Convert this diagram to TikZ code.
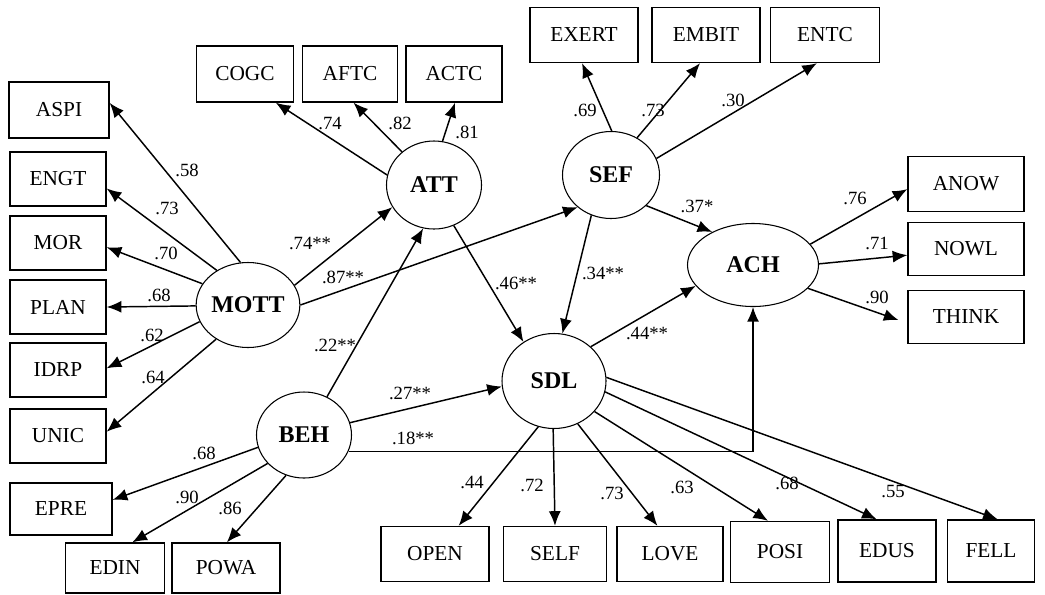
\documentclass[tikz,border=0pt]{standalone}
\usepackage{fontspec}
\setmainfont{Liberation Serif}
\usetikzlibrary{shapes.geometric,arrows.meta}
\tikzset{
  obs/.style={draw,line width=1pt,inner sep=0pt,font=\fontsize{16}{18}\selectfont},
  lat/.style={draw,ellipse,line width=0.8pt,inner sep=0pt,fill=white,font=\fontsize{18}{20}\selectfont\bfseries},
  lbl/.style={inner sep=0pt,font=\fontsize{14}{16}\selectfont},
}
\begin{document}
\begin{tikzpicture}[x=0.75pt,y=-0.75pt,>={Latex[length=11pt,width=9pt]},line width=1.1pt]
\useasboundingbox (0,0) rectangle (1045,594);
\foreach \n/\x/\y/\w/\h in {ASPI/59/110/100/56, ENGT/58/179/96/54, MOR/58/243/96/54,
  PLAN/58/307/96/54, IDRP/58/370/96/54, UNIC/58/436/96/54, EPRE/61/509/102/52,
  EDIN/115/568/99/50, POWA/226/568/108/50, COGC/245/74/97/56, AFTC/350/74/95/56,
  ACTC/454/74/96/56, EXERT/584/35/108/55, EMBIT/706/35/108/55, ENTC/825/35/109/55,
  ANOW/966/184/116/55, NOWL/966/249/116/53, THINK/966/317/116/53, OPEN/435/554/108/55,
  SELF/555/554/103/55, LOVE/670/554/106/55, POSI/780/552/99/61, EDUS/887/551/98/62,
  FELL/991/551/87/62}
{
  \node[obs,minimum width=\w*0.75pt,minimum height=\h*0.75pt] (\n) at (\x,\y) {\n};
}
\foreach \n/\x/\y/\w/\h in {MOTT/248/305/91/85, BEH/304/435/95/86, ATT/434/185/95/88,
  SEF/611/175/97/87, ACH/753/265/131/83, SDL/554/381/104/95}
{
  \node[lat,minimum width=\w*0.75pt,minimum height=\h*0.75pt] (\n) at (\x,\y) {\n};
}
\foreach \a/\b/\lx/\ly/\t [count=\i] in {MOTT.100/ASPI.8/187/170/.58, MOTT.132/ENGT.349/167/208/.73,
  MOTT.155/MOR.355/166/253/.70, MOTT.181/PLAN.east/159/295/.68, MOTT.199/IDRP.2/152/335/.62,
  MOTT.227/UNIC.5/153/377/.64, MOTT.23/ATT.208/310/243/.74**, MOTT.east/SEF.224/343/277/.87**,
  BEH.195/EPRE.10/204/453/.68, BEH.218/EDIN.56/187/497/.90, BEH.246/POWA.88/230/508/.86,
  BEH.59/ATT.256/335/345/.22**, BEH.15/SDL.186/410/393/.27**,
  ATT.168/COGC.317/330/123/.74, ATT.134/AFTC.277/400/123/.82, ATT.79/ACTC.272/467/132/.81,
  ATT.296/SDL.128/516/283/.46**,
  SEF.89/EXERT.266/585/110/.69, SEF.55/EMBIT.258/653/110/.73, SEF.20/ENTC.254/733/100/.30,
  SEF.319/ACH.141/697/206/.37*, SEF.244/SDL.80/603/273/.34**, SDL.43/ACH.200/647/333/.44**,
  ACH.20/ANOW.185/855/198/.76, ACH.1/NOWL.186/877/243/.71,
  SDL.251/OPEN.50/472/482/.44, SDL.269/SELF.north/532/485/.72, SDL.299/LOVE.114/612/493/.73,
  SDL.323/POSI.111/682/487/.63, SDL.348/EDUS.108/787/483/.68, SDL.4/FELL.78/893/492/.55}
{
  \draw[->] (\a) -- (\b);
  \node[lbl] (c\i) at (\lx,\ly) {\t};
}
\draw[->,shorten >=7pt] (ACH.337) -- (THINK.186);
\node[lbl] (cthink) at (877,297) {.90};
\draw[->] (BEH.340) -| (ACH.south);
\node[lbl] (cach) at (413,438) {.18**};
\end{tikzpicture}
\end{document}
